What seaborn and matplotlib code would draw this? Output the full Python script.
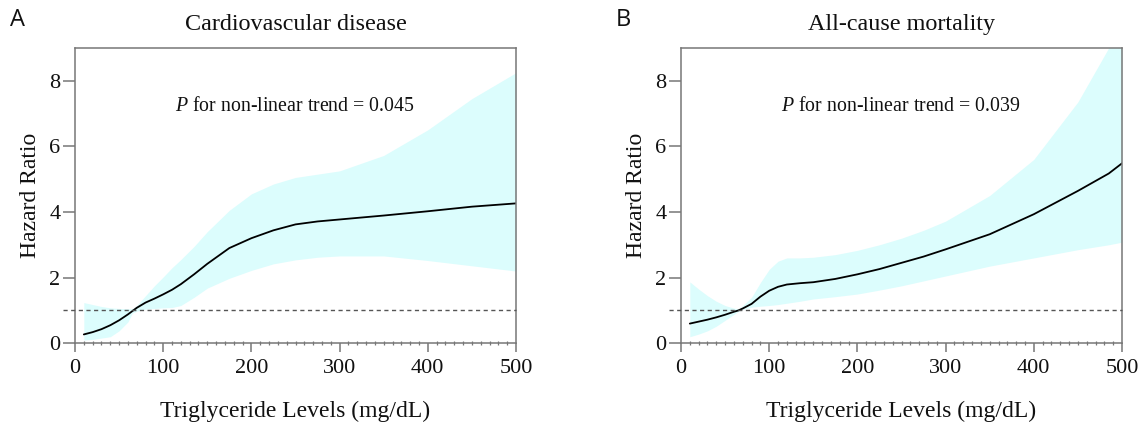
import matplotlib
matplotlib.use("Agg")
import matplotlib.pyplot as plt
import seaborn as sns
import pandas as pd
from matplotlib.ticker import MultipleLocator

# --- data ---
cvd_x = [10, 20, 30, 40, 50, 60, 65, 70, 80, 90, 100, 110, 120, 135, 150, 175, 200,
         225, 250, 275, 300, 350, 400, 450, 500]
cvd_hr = [0.27, 0.34, 0.43, 0.55, 0.70, 0.88, 0.98, 1.08, 1.24, 1.36, 1.49, 1.63, 1.80,
          2.10, 2.42, 2.90, 3.20, 3.44, 3.62, 3.71, 3.77, 3.89, 4.02, 4.16, 4.26]
cvd_hi = [1.24, 1.18, 1.12, 1.08, 1.06, 1.05, 1.05, 1.15, 1.45, 1.75, 2.02, 2.30, 2.55,
          2.95, 3.40, 4.05, 4.55, 4.85, 5.05, 5.15, 5.25, 5.72, 6.50, 7.45, 8.24]
cvd_lo = [0.10, 0.12, 0.16, 0.20, 0.38, 0.65, 0.92, 0.98, 1.04, 1.06, 1.08, 1.09, 1.15,
          1.40, 1.68, 1.98, 2.22, 2.42, 2.54, 2.62, 2.66, 2.66, 2.52, 2.36, 2.20]

all_x = [10, 20, 30, 40, 50, 60, 65, 70, 80, 90, 100, 110, 120, 135, 150, 175, 200,
         225, 250, 275, 300, 350, 400, 450, 485, 500]
all_hr = [0.60, 0.66, 0.72, 0.79, 0.87, 0.96, 1.00, 1.06, 1.20, 1.42, 1.60, 1.72, 1.79,
          1.83, 1.86, 1.96, 2.10, 2.26, 2.45, 2.64, 2.86, 3.32, 3.93, 4.64, 5.17, 5.48]
all_hi = [1.87, 1.65, 1.45, 1.28, 1.15, 1.07, 1.05, 1.15, 1.40, 1.85, 2.25, 2.50, 2.60,
          2.60, 2.62, 2.70, 2.83, 3.00, 3.20, 3.44, 3.72, 4.50, 5.60, 7.35, 9.00, 9.80]
all_lo = [0.20, 0.28, 0.38, 0.52, 0.70, 0.88, 0.97, 1.03, 1.10, 1.13, 1.15, 1.18, 1.22,
          1.28, 1.35, 1.42, 1.50, 1.62, 1.75, 1.90, 2.05, 2.35, 2.60, 2.85, 3.00, 3.08]

panels = [
    ("A", "Cardiovascular disease", "0.045", cvd_x, cvd_hr, cvd_lo, cvd_hi),
    ("B", "All-cause mortality", "0.039", all_x, all_hr, all_lo, all_hi),
]

sns.set_theme(style="ticks")
plt.rcParams["font.family"] = ["Liberation Serif", "DejaVu Serif"]
plt.rcParams["mathtext.fontset"] = "custom"
plt.rcParams["mathtext.it"] = "Liberation Serif:italic"
plt.rcParams["mathtext.rm"] = "Liberation Serif"

W, H = 1146, 426
fig = plt.figure(figsize=(W / 100, H / 100), dpi=100)
lefts = [75, 681]
spine_col = "#777777"
txt_col = "#111111"

for (letter, title, pval, xs, hr, lo, hi), left in zip(panels, lefts):
    ax = fig.add_axes([left / W, 1 - 343.3 / H, 441 / W, 295.6 / H])
    df = pd.DataFrame({"x": xs, "hr": hr, "lo": lo, "hi": hi})

    ax.fill_between(df["x"], df["lo"], df["hi"], color="#dcfdfd", linewidth=0)
    sns.lineplot(data=df, x="x", y="hr", ax=ax, color="black", linewidth=1.3)

    # reference line at HR = 1, running out over the tick area
    ax.plot([-13.5, 500], [1, 1], color="#555555", linestyle=(0, (3, 2.5)),
            linewidth=1.0, clip_on=False, zorder=3)

    ax.set_xlim(0, 500)
    ax.set_ylim(0, 9)
    ax.set_yticks([0, 2, 4, 6, 8])
    ax.set_xticks([0, 100, 200, 300, 400, 500])
    ax.xaxis.set_minor_locator(MultipleLocator(10))

    for side in ["left", "right", "top", "bottom"]:
        ax.spines[side].set_visible(True)
        ax.spines[side].set_color(spine_col)
        ax.spines[side].set_linewidth(1.1)

    ax.tick_params(axis="y", which="major", length=8.5, width=1.1, color=spine_col,
                   labelsize=16, labelcolor=txt_col, pad=2)
    ax.tick_params(axis="x", which="major", length=6.5, width=1.1, color=spine_col,
                   labelsize=16, labelcolor=txt_col, pad=5)
    ax.tick_params(axis="x", which="minor", direction="inout", length=3.5, width=0.9,
                   color=spine_col)

    ax.set_xlabel("Triglyceride Levels (mg/dL)", fontsize=17, labelpad=16, color=txt_col)
    ax.set_ylabel("Hazard Ratio", fontsize=17, labelpad=6, color=txt_col)
    ax.set_title(title, fontsize=17.4, pad=13, color=txt_col)

    ax.text(249, 7.2, f"$P$ for non-linear trend = {pval}", fontsize=14.3,
            ha="center", va="center", color=txt_col)

    fig.text((left - 65) / W, 1 - 20 / H, letter, fontsize=17, family="Open Sans",
             ha="left", va="center", color=txt_col)

fig.savefig("out.png", dpi=100)
